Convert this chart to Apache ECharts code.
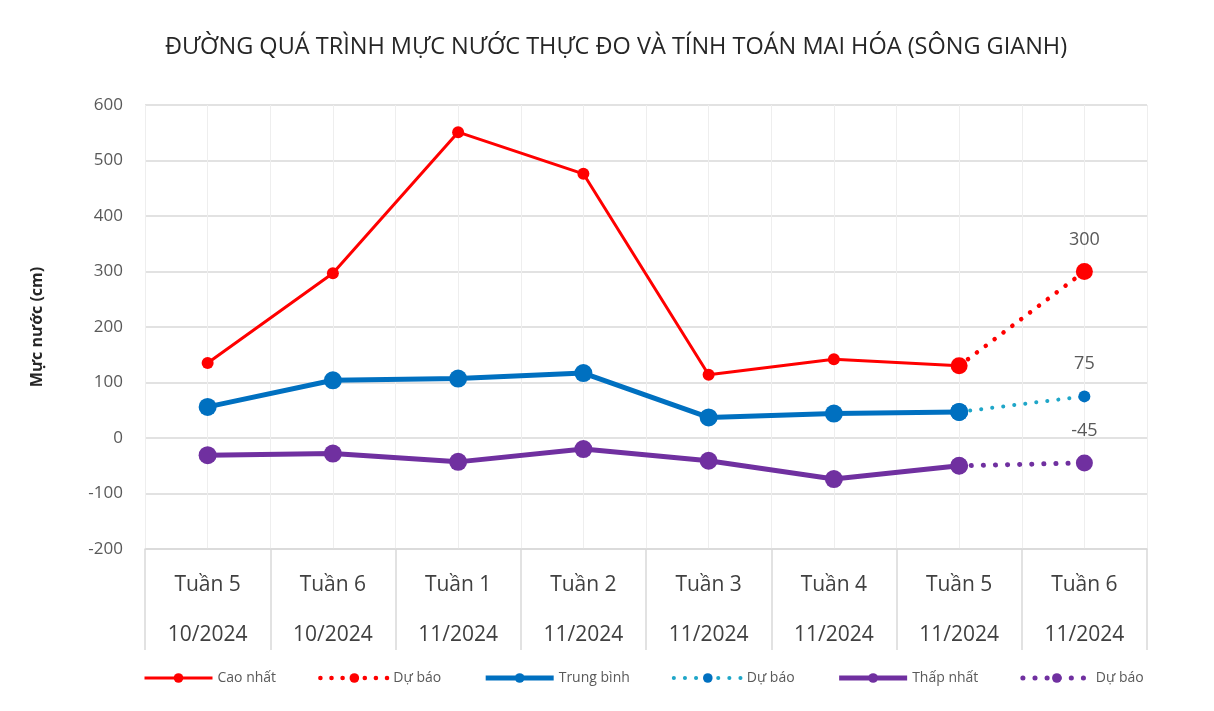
<!DOCTYPE html>
<html><head><meta charset="utf-8">
<script src="https://cdn.jsdelivr.net/npm/echarts@6/dist/echarts.min.js"></script>
<style>html,body{margin:0;padding:0;background:#fff}#c{width:1214px;height:711px}</style>
</head><body><div id="c"></div>
<script>
const weeks = ['Tuần 5','Tuần 6','Tuần 1','Tuần 2','Tuần 3','Tuần 4','Tuần 5','Tuần 6'];
const months = ['10/2024','10/2024','11/2024','11/2024','11/2024','11/2024','11/2024','11/2024'];
const caoNhat   = [135, 297, 551, 476, 114, 142, 130, null];
const duBaoCao  = [null, null, null, null, null, null, 130, 300];
const trungBinh = [56, 104, 107, 117, 37, 44, 47, null];
const duBaoTB   = [null, null, null, null, null, null, 47, 75];
const thapNhat  = [-31, -28, -43, -20, -41, -74, -50, null];
const duBaoThap = [null, null, null, null, null, null, -50, -45];
const yTicks = { min: -200, max: 600, interval: 100 };

const FONT = "'Open Sans', sans-serif";
const categories = weeks.map((w, i) => w + '\n' + months[i]);
const lastLabel = (p) => p.dataIndex === 7 ? String(p.value) : '';

const chart = echarts.init(document.getElementById('c'), null, {renderer: 'canvas'});
chart.setOption({
  backgroundColor: '#fff',
  animation: false,
  textStyle: { fontFamily: FONT },
  title: {
    text: 'ĐƯỜNG QUÁ TRÌNH MỰC NƯỚC THỰC ĐO VÀ TÍNH TOÁN MAI HÓA (SÔNG GIANH)',
    left: 611, top: 30, textAlign: 'center',
    textStyle: { fontFamily: FONT, fontSize: 23.5, fontWeight: 'normal', color: '#262626' }
  },
  legend: {
    bottom: 21, left: 138,
    itemWidth: 68, itemHeight: 12, itemGap: 42,
    textStyle: { fontFamily: FONT, fontSize: 14, color: '#595959' },
    formatter: (n) => n.indexOf('Dự báo') === 0 ? 'Dự báo' : n,
    data: [
      { name: 'Cao nhất', lineStyle: { width: 3 } },
      { name: 'Dự báo 1', lineStyle: { width: 4.5 } },
      { name: 'Trung bình', lineStyle: { width: 5 } },
      { name: 'Dự báo 2', lineStyle: { width: 4 } },
      { name: 'Thấp nhất', lineStyle: { width: 5 } },
      { name: 'Dự báo 3', lineStyle: { width: 5 } }
    ]
  },
  grid: { left: 145, right: 67, top: 105, bottom: 162, containLabel: false },
  xAxis: [{
    type: 'category', data: categories, boundaryGap: true,
    axisLine: { show: true, onZero: false, lineStyle: { color: '#d9d9d9', width: 1.5 } },
    axisTick: { show: true, length: 101, interval: 0, lineStyle: { color: '#d9d9d9', width: 1.5 } },
    axisLabel: { interval: 0, margin: 11, lineHeight: 50, fontFamily: FONT, fontSize: 21, color: '#404040' },
    splitLine: { show: false }
  }, {
    type: 'value', min: -0.5, max: 7.5, interval: 0.5, position: 'top',
    axisLine: { show: false }, axisTick: { show: false }, axisLabel: { show: false },
    splitLine: { show: true, lineStyle: { color: '#eeeeee', width: 1 } }
  }],
  yAxis: {
    type: 'value', min: yTicks.min, max: yTicks.max, interval: yTicks.interval,
    name: 'Mực nước (cm)', nameLocation: 'middle', nameGap: 100, nameRotate: 90,
    nameTextStyle: { fontFamily: FONT, fontSize: 16, fontWeight: 'bold', color: '#262626' },
    axisLine: { show: false }, axisTick: { show: false },
    axisLabel: { margin: 22, fontFamily: FONT, fontSize: 17, color: '#595959' },
    splitLine: { show: true, lineStyle: { color: '#d9d9d9', width: 1.5 } }
  },
  series: [
    { name: 'Cao nhất', type: 'line', data: caoNhat, symbol: 'circle', symbolSize: 12,
      itemStyle: { color: '#ff0000' }, lineStyle: { color: '#ff0000', width: 3 }, z: 3 },
    { name: 'Dự báo 1', type: 'line', data: duBaoCao, symbol: 'circle', symbolSize: 17,
      itemStyle: { color: '#ff0000' }, lineStyle: { color: '#ff0000', width: 4.5, type: [0.1, 11], cap: 'round' }, z: 3,
      label: { show: true, position: 'top', distance: 14, formatter: lastLabel, fontFamily: FONT, fontSize: 18, color: '#595959' } },
    { name: 'Trung bình', type: 'line', data: trungBinh, symbol: 'circle', symbolSize: 18,
      itemStyle: { color: '#0070c0' }, lineStyle: { color: '#0070c0', width: 5 }, z: 3 },
    { name: 'Dự báo 2', type: 'line', data: duBaoTB, symbol: 'circle',
      symbolSize: (v, p) => p.dataIndex === 7 ? 12 : 18,
      itemStyle: { color: '#0070c0' }, lineStyle: { color: '#1fa6c8', width: 4, type: [0.1, 11], cap: 'round' }, z: 3,
      label: { show: true, position: 'top', distance: 18, formatter: lastLabel, fontFamily: FONT, fontSize: 18, color: '#595959' } },
    { name: 'Thấp nhất', type: 'line', data: thapNhat, symbol: 'circle', symbolSize: 18,
      itemStyle: { color: '#7030a0' }, lineStyle: { color: '#7030a0', width: 5 }, z: 3 },
    { name: 'Dự báo 3', type: 'line', data: duBaoThap, symbol: 'circle', symbolSize: 17,
      itemStyle: { color: '#7030a0' }, lineStyle: { color: '#7030a0', width: 5, type: [0.1, 12], cap: 'round' }, z: 3,
      label: { show: true, position: 'top', distance: 15, formatter: lastLabel, fontFamily: FONT, fontSize: 18, color: '#595959' } }
  ]
});
</script></body></html>
